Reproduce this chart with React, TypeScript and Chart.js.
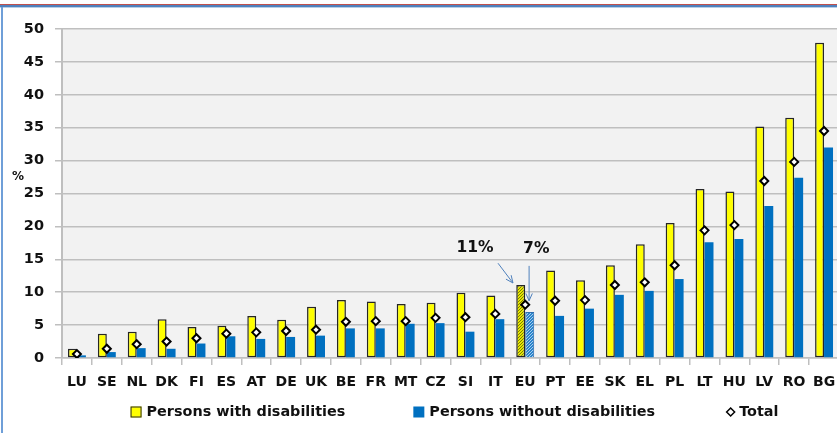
import React, { useEffect, useRef } from "react";
import { Chart, registerables } from "chart.js";
Chart.register(...registerables);

const categories = ["LU","SE","NL","DK","FI","ES","AT","DE","UK","BE","FR","MT","CZ","SI","IT","EU","PT","EE","SK","EL","PL","LT","HU","LV","RO","BG"];
const withDisabilities = [1.4,3.7,4.0,5.9,4.7,4.9,6.4,5.8,7.8,8.8,8.6,8.2,8.4,9.9,9.5,11.1,13.3,11.8,14.1,17.3,20.5,25.7,25.3,35.2,36.5,47.9];
const withoutDisabilities = [0.4,0.9,1.5,1.4,2.2,3.3,2.9,3.2,3.4,4.5,4.5,5.2,5.3,4.0,5.9,7.0,6.4,7.5,9.6,10.2,12.0,17.6,18.1,23.1,27.4,32.0];
const totals = [0.6,1.4,2.1,2.5,3.0,3.7,3.9,4.1,4.3,5.5,5.6,5.6,6.1,6.2,6.7,8.1,8.7,8.8,11.1,11.5,14.1,19.4,20.2,26.9,29.8,34.5];
const seriesNames = ["Persons with disabilities","Persons without disabilities","Total"];
const yTicks = [0,5,10,15,20,25,30,35,40,45,50];
const highlight = "EU";
// annotations in data coordinates (category index, value)
const labelNotes = [
  { text: "11%", x: 13.32, y: 16.7 },
  { text: "7%", x: 15.37, y: 16.6 },
];
const arrowNotes = [
  { x1: 14.09, y1: 14.4, x2: 14.59, y2: 11.4 },
  { x1: 15.13, y1: 14.0, x2: 15.13, y2: 8.7 },
];

const FONT = "'DejaVu Sans', Verdana, sans-serif";
const YELLOW = "#ffff00";
const BLUE = "#0070c0";
const TXT = "#111111";

function makePattern(base: string, dot: string) {
  const c = document.createElement("canvas");
  c.width = 3; c.height = 3;
  const g = c.getContext("2d")!;
  g.fillStyle = base; g.fillRect(0, 0, 3, 3);
  g.fillStyle = dot;
  g.fillRect(0, 0, 1, 1);
  g.fillRect(1, 2, 1, 1);
  g.fillRect(2, 1, 1, 1);
  return g.createPattern(c, "repeat")!;
}

export default function App() {
  const ref = useRef<HTMLCanvasElement>(null);
  useEffect(() => {
    const canvas = ref.current!;
    const ctx0 = canvas.getContext("2d")!;
    const yPat = makePattern("#e8e800", "#7a7a00");
    const bPat = makePattern("#2a85cc", "#a8cdef");
    const hi = categories.indexOf(highlight);

    const bgPlugin = {
      id: "bg",
      beforeDraw(chart: any) {
        const { ctx, chartArea: a } = chart;
        ctx.save();
        ctx.fillStyle = "#ffffff";
        ctx.fillRect(0, 0, chart.width, chart.height);
        ctx.fillStyle = "#f2f2f2";
        ctx.fillRect(a.left, a.top, a.right - a.left, a.bottom - a.top);
        ctx.restore();
      },
    };

    const extras = {
      id: "extras",
      afterDraw(chart: any) {
        const { ctx, chartArea: a } = chart;
        const xs = chart.scales.x, ys = chart.scales.y;
        const px = (v: number) => xs.getPixelForValue(0) + v * (xs.getPixelForValue(1) - xs.getPixelForValue(0));
        ctx.save();
        // % label
        ctx.fillStyle = TXT;
        ctx.font = `bold 12px ${FONT}`;
        ctx.textAlign = "left";
        ctx.textBaseline = "middle";
        ctx.fillText("%", 12, ys.getPixelForValue(27.5));
        // annotations
        ctx.font = `bold 15.5px ${FONT}`;
        ctx.textAlign = "center";
        for (const n of labelNotes) ctx.fillText(n.text, px(n.x), ys.getPixelForValue(n.y));
        ctx.strokeStyle = "#4f81bd";
        ctx.lineWidth = 1;
        for (const r of arrowNotes) {
          const x1 = px(r.x1), y1 = ys.getPixelForValue(r.y1);
          const x2 = px(r.x2), y2 = ys.getPixelForValue(r.y2);
          const ang = Math.atan2(y2 - y1, x2 - x1);
          ctx.beginPath();
          ctx.moveTo(x1, y1); ctx.lineTo(x2, y2);
          for (const s of [-1, 1]) {
            ctx.moveTo(x2, y2);
            ctx.lineTo(x2 - 8 * Math.cos(ang + s * 0.42), y2 - 8 * Math.sin(ang + s * 0.42));
          }
          ctx.stroke();
        }
        // legend
        ctx.font = `bold 14.4px ${FONT}`;
        ctx.textAlign = "left";
        const box = 11, gapBox = 5, gapItem = 68;
        const widths = seriesNames.map((n) => box + gapBox + ctx.measureText(n).width);
        const total = widths.reduce((s, w) => s + w, 0) + gapItem * (widths.length - 1);
        let x = (a.left + a.right) / 2 + 4 - total / 2;
        const cy = 412;
        seriesNames.forEach((n, i) => {
          if (i === 0) {
            ctx.fillStyle = YELLOW;
            ctx.fillRect(x, cy - 5.5, box, box);
            ctx.strokeStyle = "#262626"; ctx.lineWidth = 1;
            ctx.strokeRect(x + 0.5, cy - 5, box - 1, box - 1);
          } else if (i === 1) {
            ctx.fillStyle = BLUE;
            ctx.fillRect(x, cy - 5.5, box, box);
          } else {
            const c = x + box / 2 + 2;
            ctx.beginPath();
            ctx.moveTo(c, cy - 4); ctx.lineTo(c + 4, cy); ctx.lineTo(c, cy + 4); ctx.lineTo(c - 4, cy); ctx.closePath();
            ctx.fillStyle = "#fff"; ctx.fill();
            ctx.strokeStyle = "#000"; ctx.lineWidth = 1.5; ctx.stroke();
          }
          ctx.fillStyle = TXT;
          ctx.fillText(n, x + box + gapBox, cy + 0.5);
          x += widths[i] + gapItem;
        });
        ctx.restore();
      },
    };

    const chart = new Chart(ctx0, {
      type: "bar",
      data: {
        labels: categories,
        datasets: [
          {
            type: "line" as any,
            label: seriesNames[2],
            data: totals,
            showLine: false,
            pointStyle: "rectRot",
            pointRadius: 4,
            pointBackgroundColor: "#ffffff",
            pointBorderColor: "#000000",
            pointBorderWidth: 2,
            order: 0,
          } as any,
          {
            label: seriesNames[0],
            data: withDisabilities,
            backgroundColor: categories.map((c, i) => (i === hi ? yPat : YELLOW)) as any,
            borderColor: "#262626",
            borderWidth: 1.5,
            borderSkipped: false,
            categoryPercentage: 0.6,
            barPercentage: 1,
            order: 1,
          },
          {
            label: seriesNames[1],
            data: withoutDisabilities,
            backgroundColor: categories.map((c, i) => (i === hi ? bPat : BLUE)) as any,
            borderColor: categories.map((c, i) => (i === hi ? "#2f6fb0" : BLUE)),
            borderWidth: categories.map((c, i) => (i === hi ? 1 : 0)),
            categoryPercentage: 0.6,
            barPercentage: 1,
            order: 1,
          },
        ],
      },
      options: {
        responsive: false,
        animation: false,
        layout: { padding: { left: 0, right: 6, top: 29, bottom: 0 } },
        plugins: { legend: { display: false }, tooltip: { enabled: false } },
        scales: {
          x: {
            grid: { drawOnChartArea: false, drawTicks: true, tickLength: 7, color: "#bfbfbf", lineWidth: 1.5, offset: true },
            border: { color: "#bfbfbf", width: 1.5 },
            ticks: { font: { family: FONT, size: 14, weight: "bold" }, color: TXT, padding: 9, maxRotation: 0, autoSkip: false },
            afterFit: (s: any) => { s.height = 75; },
          },
          y: {
            min: 0,
            max: 50,
            afterBuildTicks: (s: any) => { s.ticks = yTicks.map((v) => ({ value: v })); },
            grid: { color: "#bfbfbf", lineWidth: 1.5, tickLength: 7 },
            border: { color: "#bfbfbf", width: 2 },
            ticks: { font: { family: FONT, size: 14.5, weight: "bold" }, color: TXT, padding: 11 },
            afterFit: (s: any) => { s.width = 62; },
          },
        },
      },
      plugins: [bgPlugin, extras],
    } as any);
    return () => chart.destroy();
  }, []);

  return (
    <div style={{ position: "fixed", left: 0, top: 0, width: 837, height: 433, overflow: "hidden", background: "#fff" }}>
      <canvas ref={ref} width={845} height={433} style={{ display: "block", position: "absolute", left: 0, top: 0 }} />
      <div style={{ position: "absolute", left: 0, top: 4, width: 837, height: 1, background: "#c0504d" }} />
      <div style={{ position: "absolute", left: 0, top: 5, width: 837, height: 2, background: "#4f81bd" }} />
      <div style={{ position: "absolute", left: 0, top: 7, width: 837, height: 1, background: "#b9cde5" }} />
      <div style={{ position: "absolute", left: 1, top: 7, width: 2, height: 426, background: "#6f9fd8" }} />
    </div>
  );
}
